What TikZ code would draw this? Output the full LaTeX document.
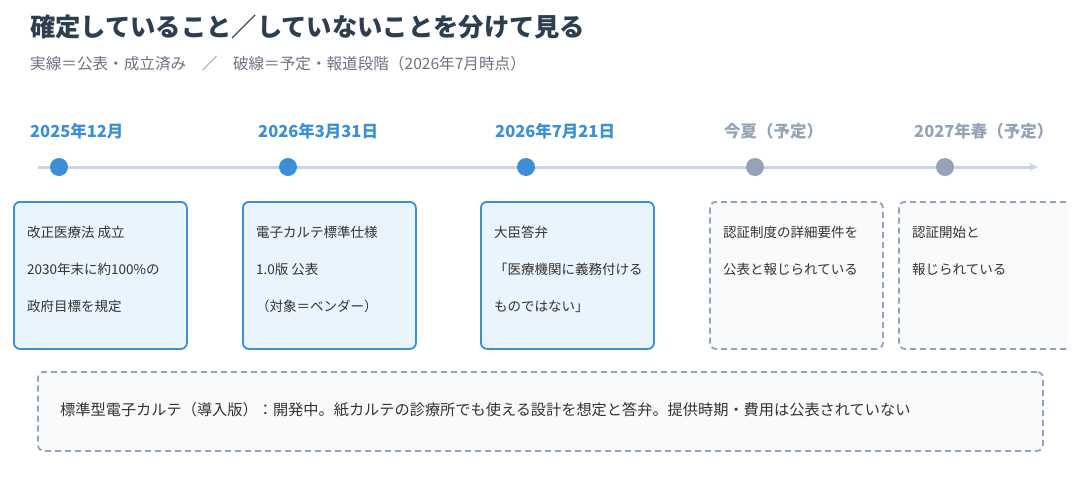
\documentclass[tikz,border=0pt]{standalone}
\usepackage{fontspec}
\setmainfont{Noto Sans CJK JP}
\usetikzlibrary{arrows.meta,positioning}

\definecolor{titlecol}{HTML}{2C3E50}
\definecolor{subcol}{HTML}{6B7280}
\definecolor{donecol}{HTML}{3A8FD6}
\definecolor{plancol}{HTML}{94A3B8}
\definecolor{linecol}{HTML}{CBD5E1}
\definecolor{donefill}{HTML}{EAF4FC}
\definecolor{planfill}{HTML}{F8FAFC}
\definecolor{textcol}{HTML}{333333}

\begin{document}
\begin{tikzpicture}[x=1pt,y=-1pt,
    datelbl/.style={anchor=west,inner sep=0pt,font=\fontsize{16.5}{16.5}\selectfont\bfseries},
    dot/.style={circle,inner sep=0pt,minimum size=18pt},
    card/.style={anchor=north west,line width=1.8pt,rounded corners=6pt,
        minimum width=173pt,minimum height=147pt},
    donebox/.style={card,draw=donecol,fill=donefill},
    planbox/.style={card,draw=plancol,fill=planfill,dash pattern=on 6pt off 4pt},
    boxtext/.style={anchor=north west,inner sep=0pt,align=left,text=textcol,
        font=\fontsize{13.5}{37}\selectfont}]
    \useasboundingbox (0,0) rectangle (1079,496);
    \clip (0,0) rectangle (1068,496);

    % heading
    \node[anchor=west,inner sep=0pt,text=titlecol,font=\fontsize{25.3}{25.3}\selectfont\bfseries]
        (title) at (30,27) {確定していること／していないことを分けて見る};
    \node[anchor=west,inner sep=0pt,text=subcol,font=\fontsize{15.6}{15.6}\selectfont]
        (sub) at (30,64) {実線＝公表・成立済み　／　破線＝予定・報道段階（2026年7月時点）};

    % timeline
    \coordinate (tl0) at (38,167);
    \coordinate (tl1) at (1038,167);
    \draw[linecol,line width=3pt,-{Stealth[length=9pt,width=8pt]}] (tl0) -- (tl1);

    % dates and dots
    \node[datelbl,text=donecol] (d1) at (30,131) {2025年12月};
    \node[datelbl,text=donecol] (d2) at (258,131) {2026年3月31日};
    \node[datelbl,text=donecol] (d3) at (495,131) {2026年7月21日};
    \node[datelbl,text=plancol] (d4) at (724,131) {今夏（予定）};
    \node[datelbl,text=plancol] (d5) at (914,131) {2027年春（予定）};
    \node[dot,fill=donecol] (p1) at (59,167) {};
    \node[dot,fill=donecol] (p2) at (288,167) {};
    \node[dot,fill=donecol] (p3) at (526,167) {};
    \node[dot,fill=plancol] (p4) at (755,167) {};
    \node[dot,fill=plancol] (p5) at (945,167) {};

    % cards
    \node[donebox] (b1) at (13,201) {};
    \node[donebox] (b2) at (242,201) {};
    \node[donebox] (b3) at (480,201) {};
    \node[planbox] (b4) at (709,201) {};
    \node[planbox] (b5) at (898,201) {};
    \node[boxtext] (t1) at ([xshift=14pt,yshift=-24.5pt]b1.north west)
        {改正医療法 成立\\2030年末に約100\%の\\政府目標を規定};
    \node[boxtext] (t2) at ([xshift=14pt,yshift=-24.5pt]b2.north west)
        {電子カルテ標準仕様\\1.0版 公表\\（対象＝ベンダー）};
    \node[boxtext] (t3) at ([xshift=14pt,yshift=-24.5pt]b3.north west)
        {大臣答弁\\「医療機関に義務付ける\\ものではない」};
    \node[boxtext] (t4) at ([xshift=14pt,yshift=-24.5pt]b4.north west)
        {認証制度の詳細要件を\\公表と報じられている};
    \node[boxtext] (t5) at ([xshift=14pt,yshift=-24.5pt]b5.north west)
        {認証開始と\\報じられている};

    % note below
    \node[anchor=north west,draw=plancol,fill=planfill,line width=1.8pt,rounded corners=6pt,
        dash pattern=on 6pt off 4pt,minimum width=1005pt,minimum height=79pt] (note) at (37,371) {};
    \node[anchor=west,inner sep=0pt,text=textcol,font=\fontsize{15.2}{15.2}\selectfont]
        (notetext) at (60,410) {標準型電子カルテ（導入版）：開発中。紙カルテの診療所でも使える設計を想定と答弁。提供時期・費用は公表されていない};
\end{tikzpicture}
\end{document}
